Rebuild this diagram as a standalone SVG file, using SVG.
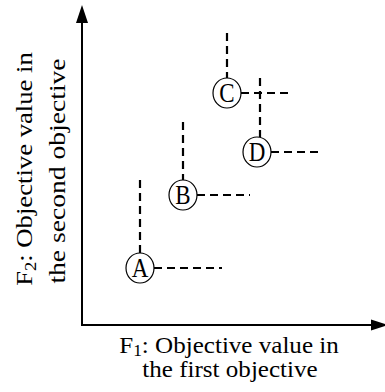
<svg xmlns="http://www.w3.org/2000/svg" width="385" height="392" viewBox="0 0 385 392">
<style>
text{font-family:"Liberation Serif","Times New Roman",serif;fill:#000}
.lbl{font-size:23px;text-anchor:middle}
.node ellipse{fill:#fff;stroke:#000;stroke-width:1.2}
.node text{font-size:23px;text-anchor:middle}
.dash{stroke:#000;stroke-width:2.2;stroke-dasharray:8 5;fill:none}
.axis{stroke:#000;stroke-width:2;fill:none}
</style>
<rect width="385" height="392" fill="#fff"/>
<g id="axes">
<polyline class="axis" points="82,20 82,325 372,325"/>
<polygon points="82,5 76,23 88,23" fill="#000"/>
<polygon points="388,325 371,319.5 371,330.5" fill="#000"/>
</g>
<g id="connectors">
<line class="dash" x1="140" y1="180" x2="140" y2="253"/>
<line class="dash" x1="154" y1="268" x2="222" y2="268"/>
<line class="dash" x1="183" y1="122" x2="183" y2="180"/>
<line class="dash" x1="197" y1="195" x2="250" y2="195"/>
<line class="dash" x1="227" y1="33" x2="227" y2="78"/>
<line class="dash" x1="241" y1="93" x2="293" y2="93"/>
<line class="dash" x1="260" y1="78" x2="260" y2="137"/>
<line class="dash" x1="271" y1="152" x2="323" y2="152"/>
</g>
<g id="A" class="node"><ellipse cx="140" cy="268" rx="14" ry="15"/><text transform="translate(140,276.5) scale(1,1.15)">A</text></g>
<g id="B" class="node"><ellipse cx="183" cy="195" rx="14" ry="15"/><text transform="translate(183,203.5) scale(1,1.15)">B</text></g>
<g id="C" class="node"><ellipse cx="227" cy="93" rx="14" ry="15"/><text transform="translate(227,101.5) scale(1,1.15)">C</text></g>
<g id="D" class="node"><ellipse cx="257" cy="152" rx="14" ry="15"/><text transform="translate(257,160.5) scale(1,1.15)">D</text></g>
<g id="xlabel">
<text class="lbl" transform="translate(229,353) scale(1.09,1)" x="0" y="0">F<tspan font-size="16" dy="3">1</tspan><tspan dy="-3">: Objective value in</tspan></text>
<text class="lbl" transform="translate(230,377) scale(1.09,1)" x="0" y="0">the first objective</text>
</g>
<g id="ylabel">
<text class="lbl" transform="translate(32,169) rotate(-90) scale(1.16,1)" x="0" y="0">F<tspan font-size="16" dy="4">2</tspan><tspan dy="-4">: Objective value in</tspan></text>
<text class="lbl" transform="translate(65,171) rotate(-90) scale(1.2,1)" x="0" y="0">the second objective</text>
</g>
</svg>
